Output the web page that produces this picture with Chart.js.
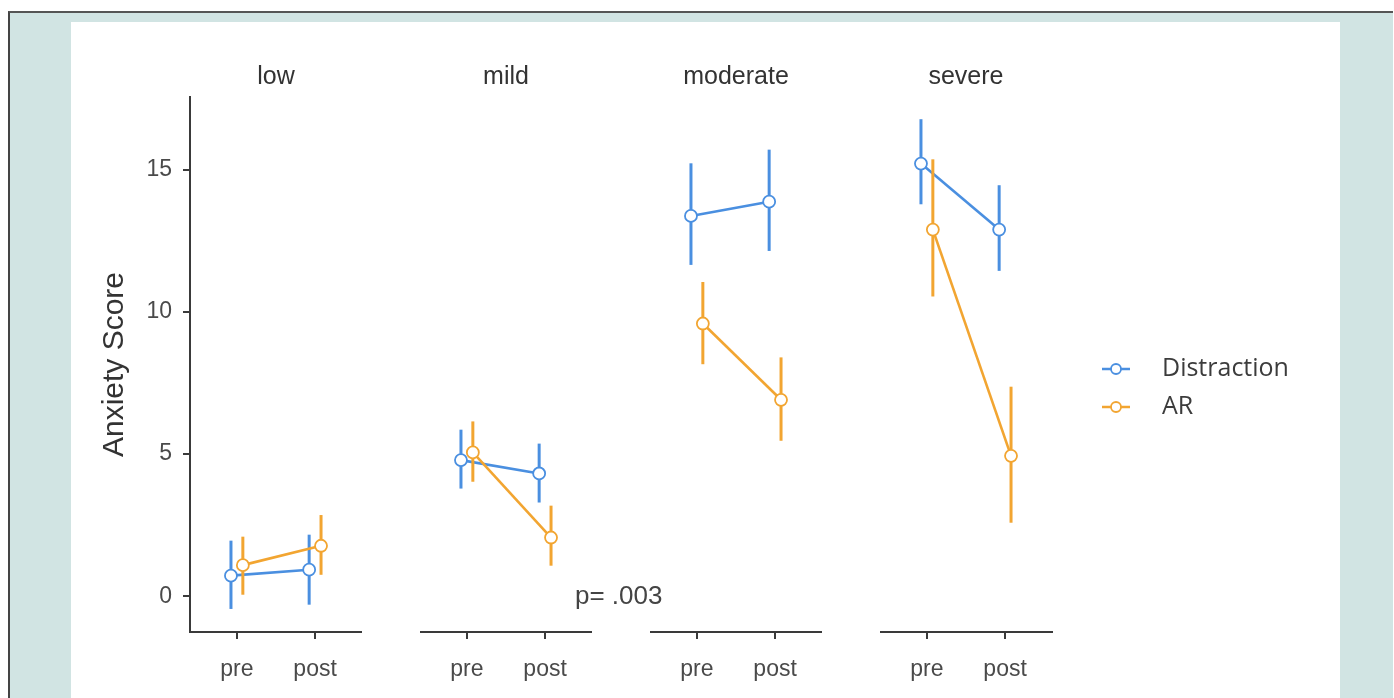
<!DOCTYPE html>
<html lang="en">
<head>
<meta charset="utf-8">
<script src="https://cdn.jsdelivr.net/npm/chart.js@4.4.1/dist/chart.umd.min.js"></script>
<style>
  html, body { margin: 0; padding: 0; background: #fff; }
  #page { position: relative; width: 1394px; height: 698px; overflow: hidden; }
  #frame { position: absolute; left: 8px; top: 11px; right: 1px; bottom: 0; background: #d1e4e3;
           border-left: 2px solid #444; border-top: 2px solid #555; }
  #panel { position: absolute; left: 71px; top: 22px; width: 1269px; height: 676px; background: #fff; }
  canvas.facet { position: absolute; top: 40px; }
  .strip { position: absolute; top: 61px; width: 172px; text-align: center; line-height: 30px;
           font: 25px "Liberation Sans", Arial, sans-serif; color: #333; }
  #pval { position: absolute; left: 575px; top: 580px; line-height: 30px;
          font: 26px "Liberation Sans", Arial, sans-serif; color: #444; }
</style>
</head>
<body>
<div id="page">
  <div id="frame"></div>
  <div id="panel"></div>
  <canvas class="facet" id="f0" width="291" height="658" style="left:71px"></canvas>
  <canvas class="facet" id="f1" width="172" height="658" style="left:420px"></canvas>
  <canvas class="facet" id="f2" width="172" height="658" style="left:650px"></canvas>
  <canvas class="facet" id="f3" width="460" height="658" style="left:880px"></canvas>
  <div id="pval">p= .003</div>
</div>
<script>
// facets and time points
const facets = ["low", "mild", "moderate", "severe"];
const times = ["pre", "post"];
const groups = ["Distraction", "AR"];
const yTicks = [0, 5, 10, 15];

// [pre, post] per facet
const distractionMean = [[0.73, 0.94], [4.79, 4.32], [13.37, 13.87], [15.21, 12.89]];
const distractionLow  = [[-0.44, -0.29], [3.79, 3.30], [11.65, 12.14], [13.78, 11.44]];
const distractionHigh = [[1.96, 2.17], [5.86, 5.37], [15.22, 15.70], [16.77, 14.45]];
const arMean = [[1.10, 1.78], [5.06, 2.07], [9.59, 6.91], [12.89, 4.94]];
const arLow  = [[0.06, 0.76], [4.03, 1.08], [8.16, 5.47], [10.54, 2.59]];
const arHigh = [[2.10, 2.86], [6.15, 3.19], [11.05, 8.40], [15.36, 7.37]];

const blue = "#4a8fe0";
const orange = "#f2a531";
const axisColor = "#3a3a3a";
const dodge = 0.076;

// strip labels over each facet
const panelLefts = [190, 420, 650, 880];
facets.forEach((f, i) => {
	const d = document.createElement("div");
	d.className = "strip";
	d.style.left = panelLefts[i] + "px";
	d.textContent = f;
	document.getElementById("page").appendChild(d);
});

// vertical error bars, drawn just before each dataset so points sit on top
const errorBars = {
	id: "errorBars",
	beforeDatasetDraw(chart, args) {
		const ds = chart.data.datasets[args.index];
		const y = chart.scales.y;
		const ctx = chart.ctx;
		ctx.save();
		ctx.strokeStyle = ds.borderColor;
		ctx.lineWidth = 3;
		args.meta.data.forEach((pt, i) => {
			ctx.beginPath();
			ctx.moveTo(pt.x, y.getPixelForValue(ds.errLow[i]));
			ctx.lineTo(pt.x, y.getPixelForValue(ds.errHigh[i]));
			ctx.stroke();
		});
		ctx.restore();
	}
};

const sideLegend = {
	id: "sideLegend",
	afterDraw(chart, args, opts) {
		if (!opts.show) return;
		const ctx = chart.ctx;
		ctx.save();
		chart.data.datasets.slice().sort((a, b) => b.order - a.order).forEach((ds, i) => {
			const cy = opts.y + i * opts.gap;
			ctx.strokeStyle = ds.borderColor;
			ctx.lineWidth = 2.5;
			ctx.beginPath();
			ctx.moveTo(opts.x, cy);
			ctx.lineTo(opts.x + 28, cy);
			ctx.stroke();
			ctx.fillStyle = "#fff";
			ctx.lineWidth = 1.8;
			ctx.beginPath();
			ctx.arc(opts.x + 14, cy, 5, 0, Math.PI * 2);
			ctx.fill();
			ctx.stroke();
			ctx.fillStyle = "#3c3c3c";
			ctx.font = '25px "Open Sans", sans-serif';
			ctx.textBaseline = "middle";
			ctx.fillText(ds.label, opts.x + 60, cy);
		});
		ctx.restore();
	}
};

function makeSeries(label, color, mean, lo, hi, f, shift, order) {
	return {
		label: label,
		order: order,
		data: times.map((t, i) => ({ x: i + 1 + shift, y: mean[f][i] })),
		errLow: lo[f],
		errHigh: hi[f],
		borderColor: color,
		borderWidth: 2.6,
		pointRadius: 6,
		pointBorderWidth: 1.8,
		pointBackgroundColor: "#fff",
		pointBorderColor: color,
		tension: 0
	};
}

facets.forEach((f, fi) => {
	const first = fi === 0;
	const last = fi === facets.length - 1;
	new Chart(document.getElementById("f" + fi), {
		type: "line",
		data: {
			datasets: [
				makeSeries(groups[0], blue, distractionMean, distractionLow, distractionHigh, fi, -dodge, 2),
				makeSeries(groups[1], orange, arMean, arLow, arHigh, fi, dodge, 1)
			]
		},
		options: {
			responsive: false,
			animation: false,
			layout: { autoPadding: false, padding: { top: 57, left: 0, right: last ? 288 : 0, bottom: 0 } },
			plugins: {
				legend: { display: false },
				tooltip: { enabled: false },
				sideLegend: { show: last, x: 222, y: 329, gap: 38 }
			},
			scales: {
				x: {
					type: "linear",
					min: 0.4,
					max: 2.6,
					afterBuildTicks: s => { s.ticks = [{ value: 1 }, { value: 2 }]; },
					afterFit: s => { s.height = 66; },
					ticks: {
						callback: v => times[v - 1],
						color: "#4a4a4a",
						font: { family: "Liberation Sans", size: 23 },
						padding: 17
					},
					grid: { drawOnChartArea: false, tickLength: 7, color: axisColor, lineWidth: 2 },
					border: { color: axisColor, width: 2 }
				},
				y: {
					display: first,
					min: -1.25,
					max: 17.55,
					afterBuildTicks: s => { s.ticks = yTicks.map(v => ({ value: v })); },
					afterFit: s => { if (first) s.width = 119; },
					ticks: {
						color: "#4a4a4a",
						font: { family: "Liberation Sans", size: 23 },
						padding: 11
					},
					grid: { drawOnChartArea: false, tickLength: 7, color: axisColor, lineWidth: 2 },
					border: { color: axisColor, width: 2 },
					title: {
						display: true,
						text: "Anxiety Score",
						color: "#333",
						font: { family: "Liberation Sans", size: 30 },
						padding: { top: 26, bottom: 0 }
					}
				}
			}
		},
		plugins: [errorBars, sideLegend]
	});
});
</script>
</body>
</html>
